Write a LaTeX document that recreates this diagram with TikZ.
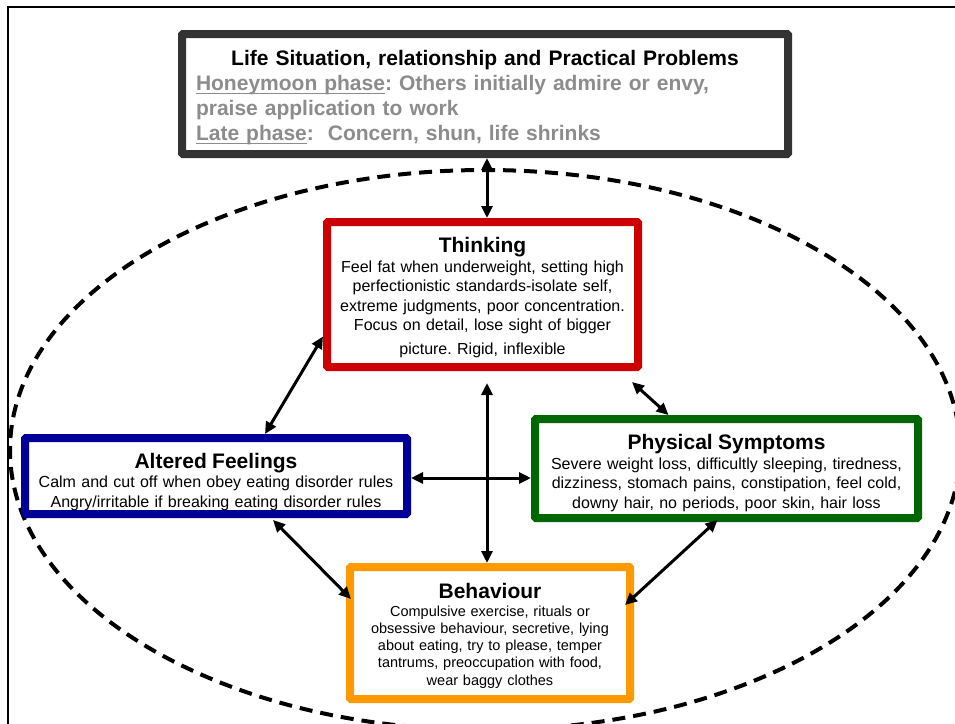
\documentclass[tikz,border=0pt]{standalone}
\usepackage{fontspec}
\setmainfont{Liberation Sans}
\usepackage{xcolor}
\usepackage{tikz}
\usetikzlibrary{arrows.meta}
\usetikzlibrary{calc}

\definecolor{lifegrey}{RGB}{51,51,51}
\definecolor{phasegrey}{RGB}{140,140,140}
\definecolor{thinkred}{RGB}{204,0,0}
\definecolor{feelblue}{RGB}{0,0,153}
\definecolor{bodygreen}{RGB}{0,102,0}
\definecolor{actorange}{RGB}{255,153,0}

\frenchspacing
\newcommand{\headtxt}{\fontsize{21}{25}\selectfont\bfseries}
\newcommand{\phaseline}[1]{\leavevmode\setbox0\hbox{#1}\rlap{\rule[-4pt]{\wd0}{1.8pt}}\box0}

\begin{document}
\begin{tikzpicture}[x = 1pt, y = -1pt,
    box/.style = {draw, line width = 8pt, fill = white, rounded corners = 1pt,
        inner sep = 0pt, align = center, font = \fontsize{16}{19.5}\selectfont},
    twoway/.style = {{Triangle[length=12pt,width=11pt]}-{Triangle[length=12pt,width=11pt]},
        line width = 3pt}]
\useasboundingbox (0, 0) rectangle (955, 723);

% frame and ellipse
\draw [line width = 1.5pt] (8, 7) rectangle (990, 760);
\draw [line width = 4pt, dash pattern = on 13pt off 8pt]
    (485, 450) ellipse [x radius = 475, y radius = 280];

% boxes
\node [box, draw = lifegrey, minimum width = 606pt, minimum height = 120pt,
    text width = 578pt, align = left, text = phasegrey, font = \headtxt] (life) at (485, 94)
    {\makebox[\hsize]{\color{black}\rule{0pt}{22pt}Life Situation, relationship and Practical Problems}\\
     \phaseline{Honeymoon phase}: Others initially admire or envy,\\
     praise application to work\\
     \phaseline{Late phase}:\ \ Concern, shun, life shrinks};

\node [box, draw = thinkred, minimum width = 311pt, minimum height = 145pt,
    text width = 300pt] (thinking) at (482.5, 294.5)
    {{\headtxt\rule{0pt}{21.5pt}Thinking}\\
     Feel fat when underweight, setting high\\
     perfectionistic standards-isolate self,\\
     extreme judgments, poor concentration.\\
     Focus on detail, lose sight of bigger\\[4pt]
     picture. Rigid, inflexible};

\node [box, draw = feelblue, minimum width = 382pt, minimum height = 76pt,
    text width = 372pt] (feelings) at (216, 476)
    {{\headtxt\rule{0pt}{27pt}Altered Feelings}\\
     Calm and cut off when obey eating disorder rules\\
     Angry/irritable if breaking eating disorder rules};

\node [box, draw = bodygreen, minimum width = 383pt, minimum height = 99pt,
    text width = 375pt] (physical) at (726.5, 468.5)
    {{\headtxt\rule{0pt}{24pt}Physical Symptoms}\\
     Severe weight loss, difficultly sleeping, tiredness,\\
     dizziness, stomach pains, constipation, feel cold,\\
     downy hair, no periods, poor skin, hair loss};

\node [box, draw = actorange, minimum width = 280pt, minimum height = 132pt,
    text width = 270pt, font = \fontsize{14.5}{17.3}\selectfont] (behaviour) at (490, 633)
    {{\headtxt\rule{0pt}{21pt}Behaviour}\\
     Compulsive exercise, rituals or\\
     obsessive behaviour, secretive, lying\\
     about eating, try to please, temper\\
     tantrums, preoccupation with food,\\
     wear baggy clothes};

% arrows
\coordinate (hub) at (487, 478);
\draw [twoway] (life.south -| hub) -- (thinking.north -| hub);
\draw [twoway] ($(thinking.south -| hub) + (0, 12)$) -- (behaviour.north -| hub);
\draw [twoway] (feelings.east |- hub) -- (physical.west |- hub);
\draw [twoway] ($(thinking.west) + (0, 42)$) -- ($(feelings.north) + (49, 0)$);
\draw [twoway] ($(thinking.south east) + (-10, 11)$) -- ($(physical.north) + (-58, 0)$);
\draw [twoway] ($(feelings.south) + (57, 2)$) -- ($(behaviour.west) + (5, -34)$);
\draw [twoway] ($(physical.south) + (-9, -2)$) -- ($(behaviour.east) + (-9, -28)$);
\end{tikzpicture}
\end{document}
